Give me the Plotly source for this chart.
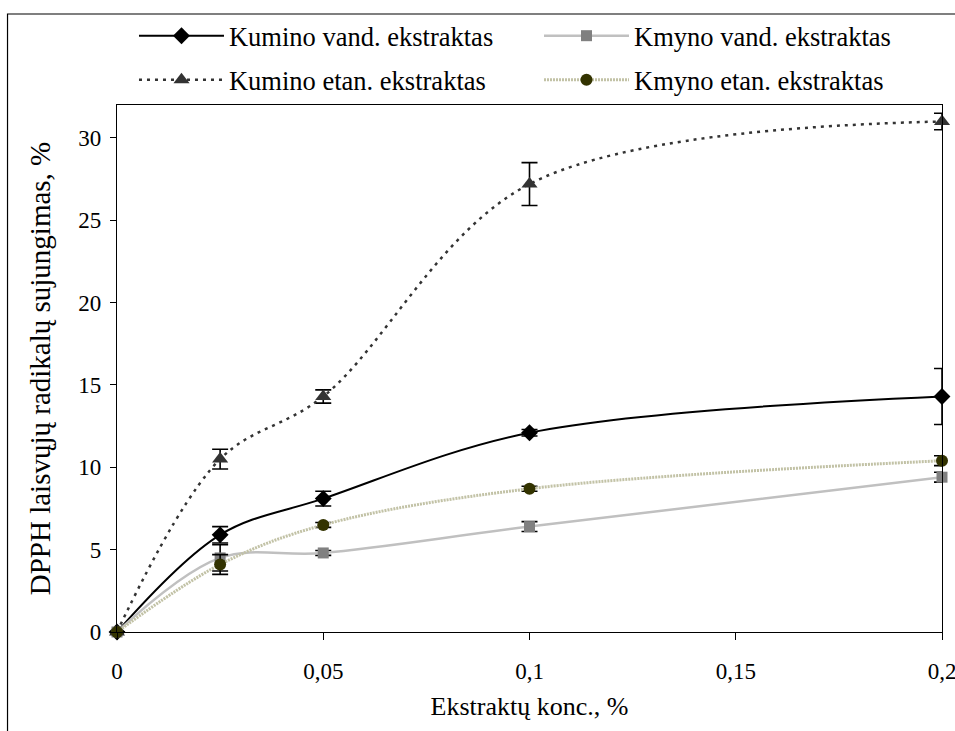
import plotly.graph_objects as go

x_vals = [0, 0.025, 0.05, 0.1, 0.2]

kumino_vand = [0, 5.9, 8.1, 12.1, 14.3]
kumino_vand_err = [0, 0.5, 0.45, 0.2, 1.7]

kmyno_vand = [0, 4.5, 4.8, 6.4, 9.4]
kmyno_vand_err = [0, 0.8, 0.15, 0.3, 0.3]

kumino_etan = [0, 10.5, 14.3, 27.2, 31.0]
kumino_etan_err = [0, 0.6, 0.4, 1.3, 0.5]

kmyno_etan = [0, 4.1, 6.5, 8.7, 10.4]
kmyno_etan_err = [0, 0.6, 0.15, 0.15, 0.3]

names = ["Kumino vand. ekstraktas", "Kmyno vand. ekstraktas",
         "Kumino etan. ekstraktas", "Kmyno etan. ekstraktas"]

x_tickvals = [0, 0.05, 0.1, 0.15, 0.2]
x_ticktext = ["0", "0,05", "0,1", "0,15", "0,2"]
y_tickvals = [0, 5, 10, 15, 20, 25, 30]

FONT = "Liberation Serif, Times New Roman, serif"
fs_tick = 23
fs_leg = 26.5
fs_xtitle = 26
fs_ytitle = 29

def err(arr):
    return dict(type="data", array=arr, visible=True, color="black",
                thickness=1.6, width=8)

fig = go.Figure()
fig.add_trace(go.Scatter(
    x=x_vals, y=kumino_vand, name=names[0], mode="lines+markers",
    line=dict(color="black", width=2, shape="spline", smoothing=1),
    marker=dict(symbol="diamond", size=13, color="black"),
    error_y=err(kumino_vand_err), cliponaxis=False, legend="legend"))
fig.add_trace(go.Scatter(
    x=x_vals, y=kmyno_vand, name=names[1], mode="lines+markers",
    line=dict(color="#c0c0c0", width=2.5, shape="spline", smoothing=1),
    marker=dict(symbol="square", size=11, color="#808080"),
    error_y=err(kmyno_vand_err), cliponaxis=False, legend="legend2"))
fig.add_trace(go.Scatter(
    x=x_vals, y=kumino_etan, name=names[2], mode="lines+markers",
    line=dict(color="#333333", width=2.5, dash="3px,5px", shape="spline", smoothing=1),
    marker=dict(symbol="triangle-up", size=14, color="#333333"),
    error_y=err(kumino_etan_err), cliponaxis=False, legend="legend3"))
fig.add_trace(go.Scatter(
    x=x_vals, y=kmyno_etan, name=names[3], mode="lines+markers",
    line=dict(color="#c2c2a6", width=3, dash="2px,1px", shape="spline", smoothing=1),
    marker=dict(symbol="circle", size=12, color="#333300"),
    error_y=err(kmyno_etan_err), cliponaxis=False, legend="legend4"))

legend_common = dict(orientation="h", font=dict(family=FONT, size=fs_leg, color="black"),
                     bgcolor="rgba(0,0,0,0)", itemwidth=85,
                     xref="container", yref="container",
                     xanchor="left", yanchor="middle", itemclick=False)

fig.update_layout(
    width=955, height=731,
    margin=dict(l=117, r=13, t=105, b=99, autoexpand=False),
    paper_bgcolor="white", plot_bgcolor="white",
    font=dict(family=FONT, size=fs_tick, color="black"),
    showlegend=True,
    legend=dict(x=0.1403, y=0.9508, **legend_common),
    legend2=dict(x=0.5644, y=0.9508, **legend_common),
    legend3=dict(x=0.1403, y=0.8906, **legend_common),
    legend4=dict(x=0.5644, y=0.8906, **legend_common),
    xaxis=dict(range=[0, 0.2], tickvals=x_tickvals, ticktext=x_ticktext,
               showgrid=False, zeroline=False, showline=True, linecolor="black",
               linewidth=1.2, mirror=True, ticks="outside", ticklen=7,
               tickcolor="black", ticklabelstandoff=11, ticklabeloverflow="allow",
               title=dict(text="Ekstraktų konc., %", standoff=14,
                          font=dict(family=FONT, size=fs_xtitle)),
               tickfont=dict(family=FONT, size=fs_tick)),
    yaxis=dict(range=[0, 32], tickvals=y_tickvals,
               showgrid=False, zeroline=False, showline=True, linecolor="black",
               linewidth=1.2, mirror=True, ticks="outside", ticklen=6,
               tickcolor="black", ticklabelstandoff=4, ticklabeloverflow="allow",
               title=dict(text="DPPH laisvųjų radikalų sujungimas, %", standoff=19,
                          font=dict(family=FONT, size=fs_ytitle)),
               tickfont=dict(family=FONT, size=fs_tick)),
    shapes=[dict(type="rect", xref="paper", yref="paper",
                 x0=-0.1327, x1=1.03, y0=-0.2, y1=1.1727,
                 line=dict(color="black", width=1.2), fillcolor="rgba(0,0,0,0)",
                 layer="below")],
)

fig.write_html(
    "out.html",
    config={"displayModeBar": False},
    post_script="document.body.style.margin='0';document.body.style.overflow='hidden';",
)
